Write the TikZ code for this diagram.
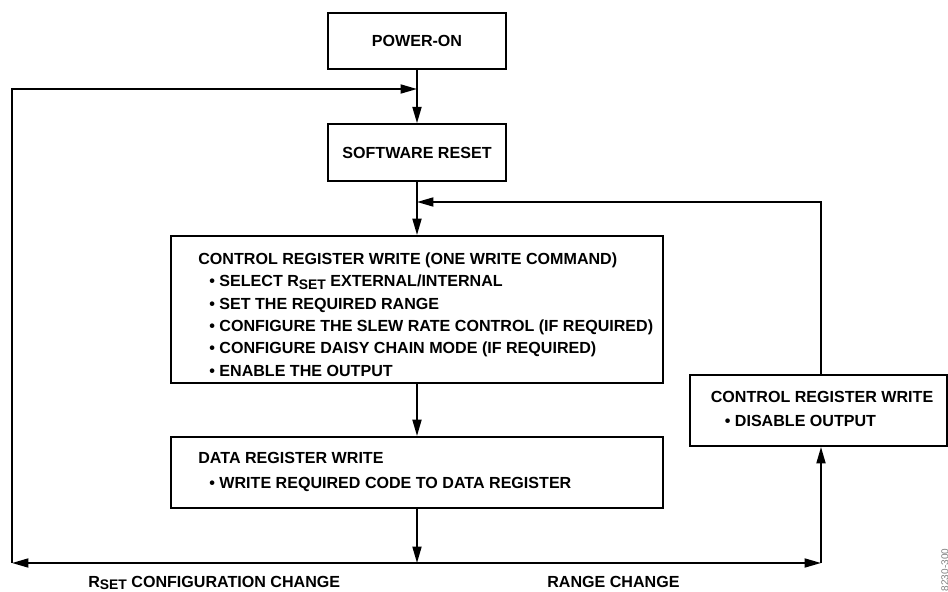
\documentclass[tikz,border=0pt]{standalone}
\usepackage{fontspec}
\setmainfont{Liberation Sans}
\usetikzlibrary{arrows.meta}
\newcommand{\rset}{R\raisebox{-0.3ex}{\fontsize{7.9}{8}\selectfont SET}}
\newcommand{\bul}[1][0.22cm]{\hspace*{#1}\textbullet\ }
\begin{document}
\begin{tikzpicture}[x=0.02cm,y=-0.02cm,>={Triangle[length=0.33cm,width=0.18cm]},
	font=\fontsize{9.15}{12.8}\selectfont\bfseries,
	box/.style={draw,line width=1.1pt,minimum height=1.13cm},
	txt/.style={align=left,anchor=west,inner sep=0},
	flow/.style={line width=1.1pt}]
	\useasboundingbox (0,0) rectangle (948,592);
	\node[box,minimum width=3.56cm](pwr) at (417,41){POWER-ON};
	\node[box,minimum width=3.56cm](swr) at (417,152.5){SOFTWARE RESET};
	\node[box,minimum width=9.84cm,minimum height=2.94cm](ctrl) at (417,309.5){};
	\node[box,minimum width=9.86cm,minimum height=1.42cm](data) at (417,472.5){};
	\node[box,minimum width=5.14cm,minimum height=1.42cm](rbox) at (818.5,410.5){};
	% box texts
	\node[txt](ctrltxt) at (198,314.5)
	{CONTROL REGISTER WRITE (ONE WRITE COMMAND)\\
	\bul SELECT \rset{} EXTERNAL/INTERNAL\\
	\bul SET THE REQUIRED RANGE\\
	\bul CONFIGURE THE SLEW RATE CONTROL (IF REQUIRED)\\
	\bul CONFIGURE DAISY CHAIN MODE (IF REQUIRED)\\
	\bul ENABLE THE OUTPUT};
	\node[txt](datatxt) at (198,472)
	{DATA REGISTER WRITE\\[1.7pt]
	\bul WRITE REQUIRED CODE TO DATA REGISTER};
	\node[txt](rboxtxt) at (710.5,409)
	{CONTROL REGISTER WRITE\\[1pt]
	\bul[0.28cm]DISABLE OUTPUT};
	% junctions and corners
	\coordinate (j1) at (417,89);
	\coordinate (j2) at (417,202);
	\coordinate (j4) at (417,563);
	\coordinate (bl) at (12,563);
	\coordinate (tl) at (12,89);
	\coordinate (br) at (821,563);
	\coordinate (tr) at (821,202);
	\draw[flow,->] (pwr) -- (swr);
	\draw[flow,->] (swr) -- (ctrl);
	\draw[flow,->] (ctrl) -- (data);
	\draw[flow,->] (data) -- (j4);
	\draw[flow,->] (j4) -- (bl);
	\draw[flow,->] (bl) -- (tl) -- (j1);
	\draw[flow,->] (j4) -- (br);
	\draw[flow,->] (br) -- (br |- rbox.south);
	\draw[flow,->] (tr |- rbox.north) -- (tr) -- (j2);
	% labels
	\node[anchor=base west,inner sep=0](lrset) at (88,587){\rset{} CONFIGURATION CHANGE};
	\node[anchor=base west,inner sep=0](lrange) at (547,587){RANGE CHANGE};
	\node[rotate=90,inner sep=0,text=gray,font=\fontsize{5.7}{6}\selectfont](fig) at (945,570){8230-300};
\end{tikzpicture}
\end{document}
